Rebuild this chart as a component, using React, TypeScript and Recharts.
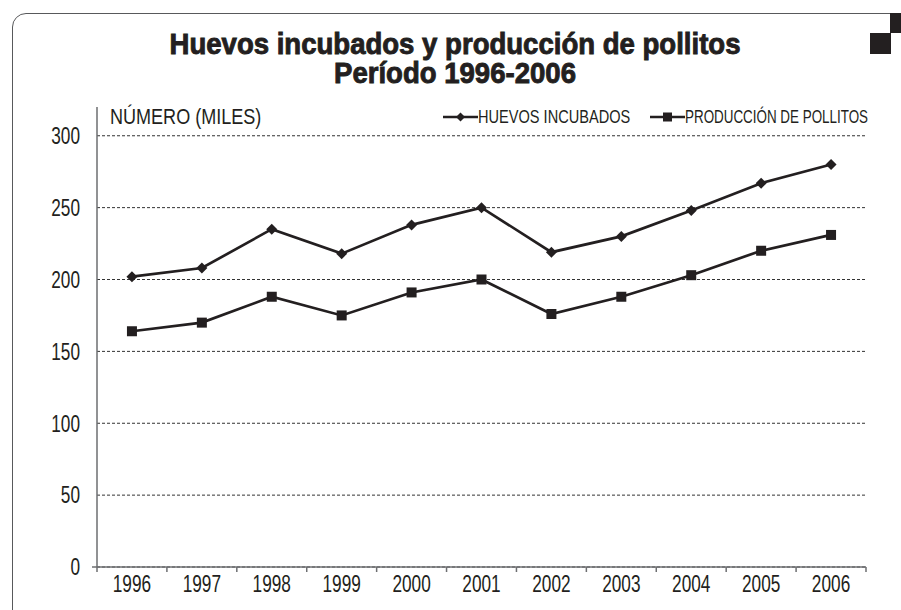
import React from "react";
import { LineChart, Line, XAxis, YAxis, CartesianGrid } from "recharts";

const years = ["1996", "1997", "1998", "1999", "2000", "2001", "2002", "2003", "2004", "2005", "2006"];
const huevos = [202, 208, 235, 218, 238, 250, 219, 230, 248, 267, 280];
const pollitos = [164, 170, 188, 175, 191, 200, 176, 188, 203, 220, 231];
const yTicks = [0, 50, 100, 150, 200, 250, 300];
const seriesNames = ["HUEVOS INCUBADOS", "PRODUCCIÓN DE POLLITOS"];
const titleLines = ["Huevos incubados y producción de pollitos", "Período 1996-2006"];

const data = years.map((year, i) => ({ x: i, year, huevos: huevos[i], pollitos: pollitos[i] }));
// a label at each year, a small tick mark between years
const xTicks: number[] = [];
years.forEach((_, i) => {
  xTicks.push(i - 0.5, i);
});
xTicks.push(years.length - 0.5);

// condensed look: Liberation Sans squeezed horizontally
const FONT = "'Liberation Sans', Arial, sans-serif";
const NARROW = 0.75;
const INK = "#231f20";
const AXIS = "#6d6e71";

function XTick(props: any) {
  const { x, y, payload } = props;
  const v = payload.value;
  if (Number.isInteger(v)) {
    return (
      <g transform={`translate(${x},${y + 8}) scale(${NARROW},1)`}>
        <text dy="0.72em" textAnchor="middle" fill={INK} fontSize={23} fontFamily={FONT}>
          {years[v]}
        </text>
      </g>
    );
  }
  return (
    <g>
      <line x1={x} y1={y} x2={x} y2={y + 5} stroke={AXIS} strokeWidth={1.5} />
      {v < 0 && <line x1={x - 5} y1={y} x2={x} y2={y} stroke={AXIS} strokeWidth={1.5} />}
    </g>
  );
}

function YTick(props: any) {
  const { x, y, payload } = props;
  return (
    <g transform={`translate(${x},${y}) scale(${NARROW},1)`}>
      <text dy="0.36em" textAnchor="end" fill={INK} fontSize={23} fontFamily={FONT}>
        {payload.value}
      </text>
    </g>
  );
}

function Diamond(props: any) {
  const { cx, cy, index } = props;
  const r = 5.5;
  return (
    <path
      key={`d-${index}`}
      d={`M${cx},${cy - r}L${cx + r},${cy}L${cx},${cy + r}L${cx - r},${cy}Z`}
      fill={INK}
    />
  );
}

function Square(props: any) {
  const { cx, cy, index } = props;
  return <rect key={`s-${index}`} x={cx - 5} y={cy - 5} width={10} height={10} fill={INK} />;
}

function LegendIcon({ kind }: { kind: number }) {
  return (
    <svg width={35} height={12} style={{ display: "block" }}>
      <line x1={0} y1={6} x2={35} y2={6} stroke={INK} strokeWidth={2.7} />
      {kind === 0 ? (
        <path d="M17.5,1.5L22,6L17.5,10.5L13,6Z" fill={INK} />
      ) : (
        <rect x={13} y={1.5} width={9} height={9} fill={INK} />
      )}
    </svg>
  );
}

const squeezed = (scale: number): React.CSSProperties => ({
  display: "inline-block",
  whiteSpace: "nowrap",
  transform: `scaleX(${scale})`,
  transformOrigin: "0 50%",
});

export default function App() {
  const legendLeft = [443, 650];
  const legendScale = [0.81, 0.745];
  return (
    <div
      style={{
        position: "absolute",
        left: 0,
        top: 0,
        width: 901,
        height: 610,
        overflow: "hidden",
        background: "#fff",
      }}
    >
      <div
        style={{
          position: "absolute",
          left: 12,
          top: 13,
          width: 920,
          height: 640,
          border: "1.5px solid #58595b",
          borderRadius: 14,
          boxSizing: "border-box",
        }}
      />
      <div style={{ position: "absolute", left: 890, top: 13, width: 11, height: 20, background: INK }} />
      <div style={{ position: "absolute", left: 870, top: 33, width: 21, height: 21, background: INK }} />
      {titleLines.map((line, i) => (
        <div
          key={line}
          style={{
            position: "absolute",
            left: 0,
            top: 30 + i * 29,
            width: 910,
            height: 29,
            textAlign: "center",
            fontFamily: FONT,
            fontWeight: 700,
            fontSize: 29,
            lineHeight: "29px",
            color: INK,
            WebkitTextStroke: `0.9px ${INK}`,
            transform: "scaleX(0.95)",
            transformOrigin: "455px 50%",
          }}
        >
          {line}
        </div>
      ))}
      <div
        style={{
          position: "absolute",
          left: 110,
          top: 105,
          fontFamily: FONT,
          fontSize: 22,
          lineHeight: "24px",
          color: INK,
        }}
      >
        <span style={squeezed(0.82)}>NÚMERO (MILES)</span>
      </div>
      {seriesNames.map((name, i) => (
        <div
          key={name}
          style={{
            position: "absolute",
            left: legendLeft[i],
            top: 107,
            height: 20,
            display: "flex",
            alignItems: "center",
            fontFamily: FONT,
            fontSize: 18,
            color: INK,
          }}
        >
          <LegendIcon kind={i} />
          <span style={squeezed(legendScale[i])}>{name}</span>
        </div>
      ))}
      <div style={{ position: "absolute", left: 0, top: 0 }}>
        <LineChart
          width={901}
          height={610}
          data={data}
          margin={{ top: 107, right: 35, left: 0, bottom: 13 }}
        >
          <CartesianGrid vertical={false} stroke="#333" strokeDasharray="3 2" horizontalValues={yTicks} />
          <XAxis
            type="number"
            dataKey="x"
            domain={[-0.5, years.length - 0.5]}
            ticks={xTicks}
            interval={0}
            tickLine={false}
            tickSize={0}
            tickMargin={0}
            height={30}
            axisLine={{ stroke: AXIS, strokeWidth: 1.5 }}
            tick={<XTick />}
          />
          <YAxis
            type="number"
            domain={[0, 320]}
            ticks={yTicks}
            interval={0}
            width={97}
            tickLine={false}
            tickSize={0}
            tickMargin={17}
            axisLine={{ stroke: AXIS, strokeWidth: 1.5 }}
            tick={<YTick />}
          />
          <Line
            dataKey="huevos"
            name={seriesNames[0]}
            stroke={INK}
            strokeWidth={2.7}
            dot={Diamond}
            activeDot={false}
            isAnimationActive={false}
          />
          <Line
            dataKey="pollitos"
            name={seriesNames[1]}
            stroke={INK}
            strokeWidth={2.7}
            dot={Square}
            activeDot={false}
            isAnimationActive={false}
          />
        </LineChart>
      </div>
    </div>
  );
}
